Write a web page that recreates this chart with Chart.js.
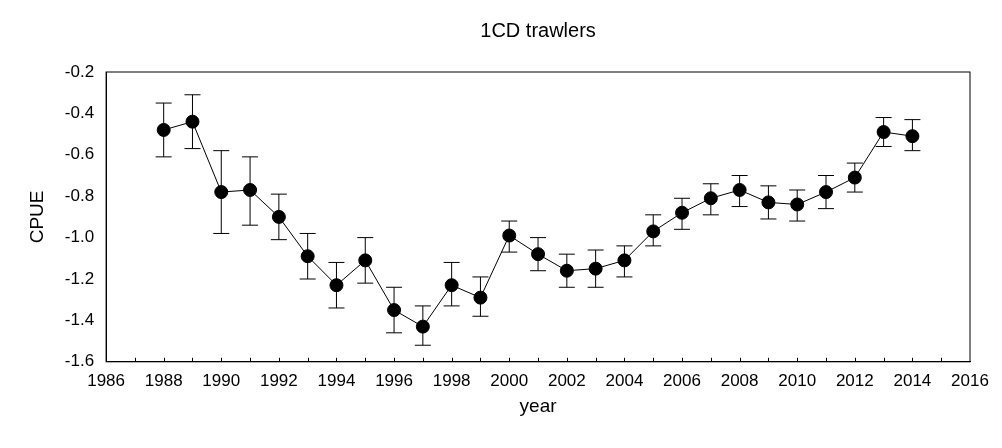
<!DOCTYPE html>
<html>
<head>
<meta charset="utf-8">
<script src="https://cdn.jsdelivr.net/npm/chart.js@4/dist/chart.umd.min.js"></script>
<style>
html, body { margin: 0; padding: 0; background: #fff; }
#wrap { width: 1002px; height: 448px; }
</style>
</head>
<body>
<div id="wrap"><canvas id="chart"></canvas></div>
<script>
const years = [1988, 1989, 1990, 1991, 1992, 1993, 1994, 1995, 1996, 1997, 1998, 1999, 2000, 2001,
    2002, 2003, 2004, 2005, 2006, 2007, 2008, 2009, 2010, 2011, 2012, 2013, 2014];
const cpue = [-0.48, -0.44, -0.78, -0.77, -0.90, -1.09, -1.23, -1.11, -1.35, -1.43, -1.23, -1.29, -0.99, -1.08,
    -1.16, -1.15, -1.11, -0.97, -0.88, -0.81, -0.77, -0.83, -0.84, -0.78, -0.71, -0.49, -0.51];
const upper = [-0.35, -0.31, -0.58, -0.61, -0.79, -0.98, -1.12, -1.00, -1.24, -1.33, -1.12, -1.19, -0.92, -1.00,
    -1.08, -1.06, -1.04, -0.89, -0.81, -0.74, -0.70, -0.75, -0.77, -0.70, -0.64, -0.42, -0.43];
const lower = [-0.61, -0.57, -0.98, -0.94, -1.01, -1.20, -1.34, -1.22, -1.46, -1.52, -1.33, -1.38, -1.07, -1.16,
    -1.24, -1.24, -1.19, -1.04, -0.96, -0.89, -0.85, -0.91, -0.92, -0.86, -0.78, -0.56, -0.58];
const titleText = '1CD trawlers';

const errorBars = {
    id: 'errorBars',
    beforeDatasetsDraw(chart) {
        const { ctx, scales: { x, y } } = chart;
        ctx.save();
        ctx.strokeStyle = '#000';
        ctx.lineWidth = 1;
        years.forEach((yr, i) => {
            const px = x.getPixelForValue(yr);
            const top = y.getPixelForValue(upper[i]);
            const bot = y.getPixelForValue(lower[i]);
            ctx.beginPath();
            ctx.moveTo(px, top); ctx.lineTo(px, bot);
            ctx.moveTo(px - 8, top); ctx.lineTo(px + 8, top);
            ctx.moveTo(px - 8, bot); ctx.lineTo(px + 8, bot);
            ctx.stroke();
        });
        ctx.restore();
    }
};

// box round the plot, short inward ticks on every year, title centred over the plot
const frame = {
    id: 'frame',
    afterDraw(chart) {
        const { ctx, chartArea: a, scales: { x } } = chart;
        ctx.save();
        ctx.strokeStyle = '#000';
        ctx.lineWidth = 1;
        ctx.strokeRect(a.left, a.top, a.right - a.left, a.bottom - a.top);
        ctx.beginPath();
        for (let yr = x.min + 1; yr < x.max; yr++) {
            const px = Math.round(x.getPixelForValue(yr)) + 0.5;
            ctx.moveTo(px, a.bottom); ctx.lineTo(px, a.bottom - 4);
        }
        ctx.stroke();
        ctx.fillStyle = '#000';
        ctx.font = '20px Liberation Sans, Arial, sans-serif';
        ctx.textAlign = 'center';
        ctx.textBaseline = 'middle';
        ctx.fillText(titleText, (a.left + a.right) / 2, 31);
        ctx.restore();
    }
};

Chart.defaults.font.family = 'Liberation Sans, Arial, sans-serif';
Chart.defaults.color = '#000';

new Chart(document.getElementById('chart'), {
    type: 'line',
    data: {
        datasets: [{
            data: years.map((yr, i) => ({ x: yr, y: cpue[i] })),
            borderColor: '#000',
            borderWidth: 1,
            backgroundColor: '#000',
            pointRadius: 6.5,
            pointHoverRadius: 6.5,
            tension: 0
        }]
    },
    options: {
        responsive: true,
        maintainAspectRatio: false,
        animation: false,
        layout: { padding: { top: 12, right: 32, left: 22, bottom: 26 } },
        plugins: {
            legend: { display: false },
            tooltip: { enabled: false },
            title: { display: true, text: titleText, color: 'rgba(0,0,0,0)', font: { size: 20, weight: 'normal' }, padding: { top: 8, bottom: 28 } }
        },
        scales: {
            x: {
                type: 'linear',
                min: 1986, max: 2016,
                ticks: { stepSize: 2, font: { size: 17 }, padding: 4, callback: (v) => String(v) },
                grid: { display: false, drawTicks: true, tickLength: 5, tickColor: '#000' },
                border: { color: '#000' },
                title: { display: true, text: 'year', font: { size: 19 }, padding: { top: 0 } }
            },
            y: {
                min: -1.6, max: -0.2,
                ticks: { stepSize: 0.2, font: { size: 17 }, padding: 4, callback: (v) => v.toFixed(1) },
                grid: { display: false, drawTicks: true, tickLength: 8, tickColor: '#000' },
                border: { color: '#000' },
                title: { display: true, text: 'CPUE', font: { size: 19 }, padding: { bottom: 12 } }
            }
        }
    },
    plugins: [errorBars, frame]
});
</script>
</body>
</html>
